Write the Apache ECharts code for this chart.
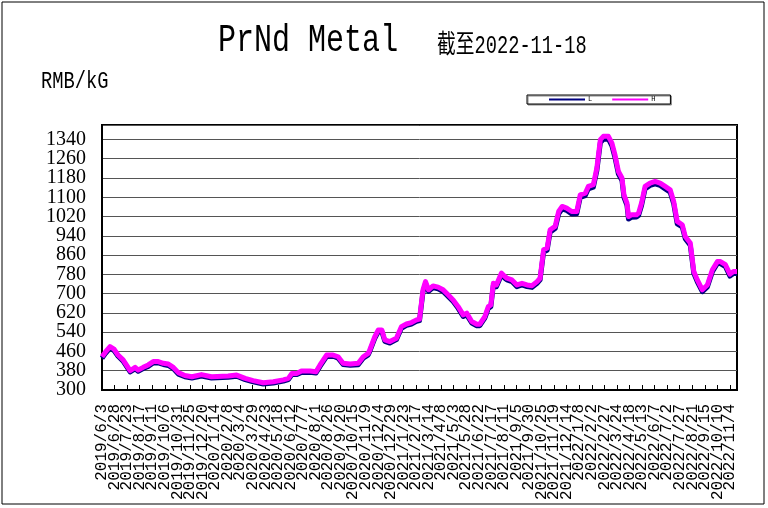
<!DOCTYPE html>
<html>
<head>
<meta charset="utf-8">
<script src="https://cdn.jsdelivr.net/npm/echarts@6/dist/echarts.min.js"></script>
<style>html,body{margin:0;padding:0;background:#fff;}#c{width:768px;height:508px;}</style>
</head>
<body>
<div id="c"></div>
<script>
const seriesNames = ['L', 'H'];
const startDate = '2019-06-03';
const endDate = '2022-11-18';
const yTicks = { min: 300, max: 1400, step: 80 };
const xTickDays = 25;

const dates = [
'2019-06-03','2019-06-10','2019-06-19','2019-06-27','2019-07-05','2019-07-15','2019-07-29','2019-08-08','2019-08-14','2019-08-24',
'2019-09-03','2019-09-13','2019-09-23','2019-10-03','2019-10-13','2019-10-23','2019-11-02','2019-11-15','2019-11-29','2019-12-18',
'2020-01-07','2020-02-09','2020-02-26','2020-03-14','2020-03-30','2020-04-19','2020-05-09','2020-05-29','2020-06-08','2020-06-15',
'2020-06-25','2020-07-04','2020-07-21','2020-08-02','2020-08-10','2020-08-23','2020-09-05','2020-09-15','2020-09-25','2020-10-09',
'2020-10-25','2020-11-04','2020-11-14','2020-11-17','2020-11-27','2020-12-04','2020-12-11','2020-12-17','2020-12-27','2021-01-09',
'2021-01-19','2021-01-29','2021-02-08','2021-02-18','2021-02-24','2021-03-03','2021-03-08','2021-03-14','2021-03-23','2021-04-02',
'2021-04-12','2021-04-22','2021-05-02','2021-05-12','2021-05-22','2021-05-29','2021-06-08','2021-06-18','2021-06-24','2021-07-04',
'2021-07-11','2021-07-16','2021-07-21','2021-07-27','2021-08-06','2021-08-13','2021-08-17','2021-08-27','2021-09-06','2021-09-16',
'2021-09-26','2021-10-06','2021-10-16','2021-10-22','2021-10-29','2021-11-05','2021-11-11','2021-11-21','2021-11-28','2021-12-05',
'2021-12-14','2021-12-24','2022-01-03','2022-01-10','2022-01-20','2022-01-26','2022-02-05','2022-02-12','2022-02-19','2022-02-25',
'2022-03-07','2022-03-14','2022-03-20','2022-03-27','2022-04-03','2022-04-07','2022-04-13','2022-04-16','2022-04-22','2022-05-02',
'2022-05-06','2022-05-12','2022-05-19','2022-05-29','2022-06-08','2022-06-18','2022-06-28','2022-07-08','2022-07-15','2022-07-22',
'2022-08-01','2022-08-07','2022-08-17','2022-08-24','2022-08-31','2022-09-10','2022-09-20','2022-09-30','2022-10-10','2022-10-16',
'2022-10-26','2022-11-04','2022-11-11','2022-11-18'
];
const high = [
438,458,480,470,445,425,380,394,383,394,
404,418,418,411,408,394,372,360,355,364,
355,358,362,348,339,330,334,342,348,369,
369,379,379,376,404,445,445,438,411,408,
411,438,452,466,521,549,549,508,501,515,
563,574,580,591,594,716,750,716,732,727,
716,695,674,646,612,619,584,573,573,605,
646,653,743,736,785,771,764,757,736,743,
736,733,750,764,882,889,965,979,1041,1062,
1055,1041,1041,1110,1117,1145,1152,1221,1339,1353,
1353,1325,1277,1207,1180,1110,1076,1020,1027,1027,
1034,1076,1145,1159,1166,1159,1145,1131,1083,1000,
986,937,910,792,757,716,736,799,833,833,
820,781,792,792
];
const low = [
432,452,474,464,440,420,375,388,378,389,
398,412,413,406,402,389,366,355,350,358,
350,353,357,343,334,325,329,337,343,364,
364,373,374,371,398,439,440,432,406,403,
405,432,446,460,514,542,543,502,495,509,
556,568,574,585,588,708,742,709,725,720,
709,688,667,639,605,612,578,567,567,598,
639,646,735,729,777,764,757,750,729,736,
729,726,743,757,873,880,955,970,1031,1052,
1045,1031,1032,1100,1107,1135,1142,1210,1327,1341,
1342,1313,1266,1196,1170,1100,1066,1010,1017,1018,
1024,1066,1135,1149,1156,1149,1135,1121,1073,990,
977,928,901,784,749,708,728,791,825,825,
812,773,784,784
];

const toUTC = s => { const p = s.split('-').map(Number); return Date.UTC(p[0], p[1] - 1, p[2]); };
const START = toUTC(startDate);
const dayIdx = s => Math.round((toUTC(s) - START) / 864e5);
const fmtDay = v => { const d = new Date(START + v * 864e5); return d.getUTCFullYear() + '/' + (d.getUTCMonth() + 1) + '/' + d.getUTCDate(); };
const lowData = dates.map((d, i) => [dayIdx(d), low[i]]);
const highData = dates.map((d, i) => [dayIdx(d), high[i]]);
const X_MAX = dayIdx(endDate);

const xLabelBase = { rotate: 90, margin: 14, color: '#000', fontFamily: 'Liberation Mono', fontSize: 16, lineHeight: 11, showMaxLabel: false };
const yLabelBase = { margin: 16, color: '#000', fontFamily: 'Liberation Serif', fontSize: 20, lineHeight: 17, showMaxLabel: false };

const chart = echarts.init(document.getElementById('c'), null, { renderer: 'canvas' });
chart.setOption({
  animation: false,
  backgroundColor: '#fff',
  graphic: [
    { type: 'rect', shape: { x: 2, y: 2, width: 762, height: 502 }, style: { fill: 'none', stroke: '#000', lineWidth: 1 }, silent: true },
    { type: 'text', x: 218, y: 41, scaleX: 0.79, style: { text: 'PrNd Metal', fontFamily: 'Liberation Mono', fontSize: 38, fill: '#000', align: 'left', verticalAlign: 'middle', textAlign: 'left', textVerticalAlign: 'middle' } },
    { type: 'text', x: 437, y: 46, scaleX: 0.72, style: { text: '截至2022-11-18', fontFamily: 'Liberation Mono, Noto Sans CJK SC', fontSize: 26, fill: '#000', align: 'left', verticalAlign: 'middle', textAlign: 'left', textVerticalAlign: 'middle' } },
    { type: 'text', x: 41, y: 82, scaleX: 0.78, style: { text: 'RMB/kG', fontFamily: 'Liberation Mono', fontSize: 24, fill: '#000', align: 'left', verticalAlign: 'middle', textAlign: 'left', textVerticalAlign: 'middle' } }
  ],
  legend: {
    left: 527, top: 95,
    data: seriesNames,
    icon: 'rect', itemWidth: 36, itemHeight: 2, itemGap: 20,
    padding: [1, 15, 1, 22],
    borderColor: '#000', borderWidth: 1,
    shadowColor: '#888', shadowOffsetX: 1, shadowOffsetY: 1, shadowBlur: 0,
    backgroundColor: '#fff',
    textStyle: { fontSize: 7, color: '#000', fontFamily: 'Liberation Mono', padding: [0, 0, 0, -2] }
  },
  grid: { left: 102, right: 31, top: 125, bottom: 118, show: true, borderColor: '#000', borderWidth: 2, backgroundColor: '#fff' },
  xAxis: [
    {
      type: 'value', position: 'bottom', min: 0, max: X_MAX, interval: xTickDays,
      axisLine: { lineStyle: { color: '#000', width: 2 } },
      axisTick: { inside: true, length: 5, lineStyle: { color: '#000' } },
      splitLine: { show: false },
      axisLabel: Object.assign({}, xLabelBase, { formatter: v => (v > 0 && v % xTickDays === 0 ? fmtDay(v) : '') })
    },
    {
      type: 'value', position: 'bottom', offset: 0, min: 0, max: X_MAX, interval: xTickDays,
      axisLine: { show: false }, axisTick: { show: false }, splitLine: { show: false },
      axisLabel: Object.assign({}, xLabelBase, { showMinLabel: true, formatter: v => (v === 0 ? fmtDay(v) : '') })
    }
  ],
  yAxis: [
    {
      type: 'value', position: 'left', min: yTicks.min, max: yTicks.max, interval: yTicks.step,
      axisLine: { show: true, lineStyle: { color: '#000', width: 2 } },
      axisTick: { show: false },
      splitLine: { lineStyle: { color: '#555', width: 1 } },
      axisLabel: Object.assign({}, yLabelBase, { formatter: v => (v > yTicks.min && v < yTicks.max ? String(v) : '') })
    },
    {
      type: 'value', position: 'left', offset: 0, min: yTicks.min, max: yTicks.max, interval: yTicks.step,
      axisLine: { show: false }, axisTick: { show: false }, splitLine: { show: false },
      axisLabel: Object.assign({}, yLabelBase, { showMinLabel: true, formatter: v => (v === yTicks.min ? String(v) : '') })
    }
  ],
  series: [
    { name: 'L', type: 'line', xAxisIndex: 0, yAxisIndex: 0, data: lowData, showSymbol: false, symbol: 'none', color: '#000080', lineStyle: { color: '#000080', width: 5, join: 'round' }, z: 2 },
    { name: 'H', type: 'line', xAxisIndex: 0, yAxisIndex: 0, data: highData, showSymbol: false, symbol: 'none', color: '#ff00ff', lineStyle: { color: '#ff00ff', width: 5, join: 'round' }, z: 3 }
  ]
});
</script>
</body>
</html>
